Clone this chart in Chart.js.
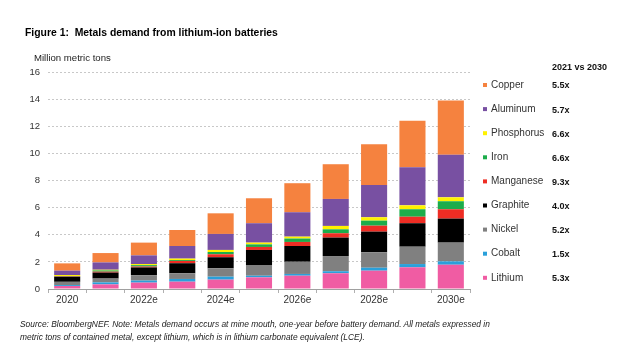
<!DOCTYPE html>
<html>
<head>
<meta charset="utf-8">
<script src="https://cdn.jsdelivr.net/npm/chart.js@4/dist/chart.umd.min.js"></script>
<style>
  html, body { margin: 0; padding: 0; background: #fff; }
  #wrap { position: relative; width: 640px; height: 363px; overflow: hidden; font-family: "Liberation Sans", Arial, sans-serif; }
  #c { position: absolute; left: 0; top: 0; }
  .title { position: absolute; left: 25px; top: 27px; font-weight: bold; font-size: 10.4px; color: #000; white-space: pre; }
  .unit { position: absolute; left: 34px; top: 52px; font-size: 9.6px; color: #222; white-space: pre; }
  .note { position: absolute; left: 20px; top: 318px; font-size: 9.6px; font-style: italic; color: #222; line-height: 12.5px; white-space: pre; transform: scaleX(0.875); transform-origin: 0 0; }
</style>
</head>
<body>
<div id="wrap">
  <canvas id="c" width="640" height="363"></canvas>
  <div class="title">Figure 1:  Metals demand from lithium-ion batteries</div>
  <div class="unit">Million metric tons</div>
  <div class="note">Source: BloombergNEF. Note: Metals demand occurs at mine mouth, one-year before battery demand. All metals expressed in
metric tons of contained metal, except lithium, which is in lithium carbonate equivalent (LCE).</div>
</div>
<script>
const categories = ['2020','2021','2022e','2023e','2024e','2025e','2026e','2027e','2028e','2029e','2030e'];
const yTicks = [0, 2, 4, 6, 8, 10, 12, 14, 16];

const lithium    = [0.22,0.34,0.47,0.54,0.69,0.86,0.98,1.16,1.35,1.60,1.79];
const cobalt     = [0.07,0.15,0.15,0.20,0.22,0.12,0.13,0.15,0.22,0.24,0.25];
const nickel     = [0.24,0.28,0.40,0.42,0.62,0.79,0.90,1.12,1.14,1.28,1.38];
const graphite   = [0.37,0.44,0.57,0.74,0.81,1.11,1.16,1.36,1.52,1.73,1.77];
const manganese  = [0.03,0.07,0.07,0.17,0.22,0.22,0.30,0.32,0.44,0.48,0.69];
const iron       = [0.03,0.09,0.10,0.07,0.17,0.19,0.25,0.29,0.37,0.55,0.59];
const phosphorus = [0.07,0.05,0.08,0.10,0.15,0.13,0.14,0.25,0.25,0.29,0.29];
const aluminum   = [0.32,0.54,0.64,0.93,1.18,1.43,1.80,1.99,2.38,2.80,3.14];
const copper     = [0.54,0.69,0.94,1.18,1.52,1.84,2.14,2.56,3.00,3.44,3.99];

// series names (bottom to top) and their 2021 vs 2030 multiples
const seriesNames = ['Lithium','Cobalt','Nickel','Graphite','Manganese','Iron','Phosphorus','Aluminum','Copper'];
const multiples   = ['5.3x','1.5x','5.2x','4.0x','9.3x','6.6x','6.6x','5.7x','5.5x'];
const multipleHeader = '2021 vs 2030';

const seriesValues = [lithium, cobalt, nickel, graphite, manganese, iron, phosphorus, aluminum, copper];
const seriesColors = ['#F05CA3','#2AA0DA','#808080','#000000','#EE2D24','#1CAD4B','#FFF200','#7850A2','#F5823F'];

const datasets = seriesNames.map((n, i) => ({
  label: n,
  data: seriesValues[i],
  backgroundColor: seriesColors[i],
  borderWidth: 0,
  barPercentage: 0.68,
  categoryPercentage: 1.0
}));

const legendPlugin = {
  id: 'sideLegend',
  afterDraw(chart) {
    const ctx = chart.ctx;
    ctx.save();
    ctx.textBaseline = 'middle';
    ctx.textAlign = 'left';
    ctx.font = 'bold 9px "Liberation Sans", Arial, sans-serif';
    ctx.fillStyle = '#111';
    ctx.fillText(multipleHeader, 552, 68);
    const n = chart.data.datasets.length;
    for (let k = 0; k < n; k++) {
      const i = n - 1 - k;
      const ds = chart.data.datasets[i];
      const y = 85 + k * 24.1;
      ctx.fillStyle = ds.backgroundColor;
      ctx.fillRect(483, y - 2, 4, 4);
      ctx.fillStyle = '#333';
      ctx.font = '10px "Liberation Sans", Arial, sans-serif';
      ctx.fillText(ds.label, 491, y);
      ctx.fillStyle = '#111';
      ctx.font = 'bold 9px "Liberation Sans", Arial, sans-serif';
      ctx.fillText(multiples[i], 552, y + 1);
    }
    ctx.restore();
  }
};

new Chart(document.getElementById('c'), {
  type: 'bar',
  data: { labels: categories, datasets },
  options: {
    responsive: false,
    animation: false,
    layout: { padding: { left: 30, right: 170, top: 72, bottom: 54 } },
    plugins: { legend: { display: false }, tooltip: { enabled: false }, title: { display: false } },
    scales: {
      x: {
        stacked: true,
        afterFit(s) { s.height = 20; },
        grid: { display: true, drawOnChartArea: false, drawTicks: true, tickLength: 4, color: '#b0b0b0', offset: true },
        border: { display: true, color: '#a0a0a0', width: 1 },
        ticks: {
          autoSkip: false, maxRotation: 0, padding: 1,
          color: '#333', font: { size: 10, family: '"Liberation Sans", Arial, sans-serif' },
          callback: (v, i) => (i % 2 === 0 ? categories[i] : '')
        }
      },
      y: {
        stacked: true,
        min: 0, max: 16,
        afterFit(s) { s.width = 18; },
        afterBuildTicks(s) { s.ticks = yTicks.map(v => ({ value: v })); },
        grid: { drawTicks: false, color: '#c8c8c8', lineWidth: 1 },
        border: { display: false, dash: [2, 2] },
        ticks: { padding: 8, color: '#333', font: { size: 9.5, family: '"Liberation Sans", Arial, sans-serif' } }
      }
    }
  },
  plugins: [legendPlugin]
});
</script>
</body>
</html>
